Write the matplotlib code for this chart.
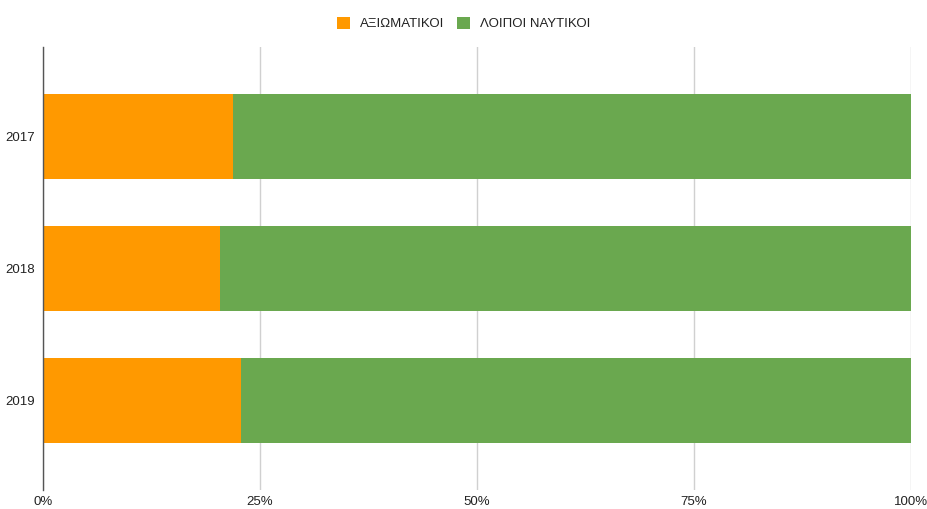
import matplotlib.pyplot as plt
import numpy as np

# Data (share of total, %)
years = ['2017', '2018', '2019']
officers = [21.85, 20.35, 22.85]
other_crew = [100 - v for v in officers]
series_names = ['ΑΞΙΩΜΑΤΙΚΟΙ', 'ΛΟΙΠΟΙ ΝΑΥΤΙΚΟΙ']
x_ticks = [0, 25, 50, 75, 100]
x_tick_labels = ['0%', '25%', '50%', '75%', '100%']

plt.rcParams['font.family'] = ['Liberation Sans', 'DejaVu Sans']

fig = plt.figure(figsize=(9.27, 5.09), dpi=100)
ax = fig.add_axes([43 / 927, 19 / 509, 868 / 927, 443 / 509])

y = np.arange(len(years))
h = 0.643
ax.barh(y, officers, height=h, color='#ff9900', label=series_names[0], zorder=3)
ax.barh(y, other_crew, left=officers, height=h, color='#6aa84f',
        label=series_names[1], zorder=3)

ax.set_xlim(0, 100)
ax.set_ylim(2.675, -0.675)
ax.set_yticks(y)
ax.set_yticklabels(years)
ax.set_xticks(x_ticks)
ax.set_xticklabels(x_tick_labels)
ax.grid(axis='x', color='#d0d0d0', linewidth=1, zorder=0)

for s in ['top', 'right', 'bottom']:
    ax.spines[s].set_visible(False)
ax.spines['left'].set_color('#555555')
ax.spines['left'].set_linewidth(1)
ax.spines['left'].set_zorder(4)
ax.tick_params(axis='both', length=0, labelsize=9.5, labelcolor='#222222')
ax.tick_params(axis='x', pad=4)
ax.tick_params(axis='y', pad=6)

leg = fig.legend(loc='upper center', bbox_to_anchor=(0.5, 0.99), ncol=2,
                 frameon=False, fontsize=9.5, handlelength=1.0, handleheight=1.0,
                 columnspacing=1.0, handletextpad=0.7)
for t in leg.get_texts():
    t.set_color('#222222')

fig.savefig('out.png', dpi=100)
